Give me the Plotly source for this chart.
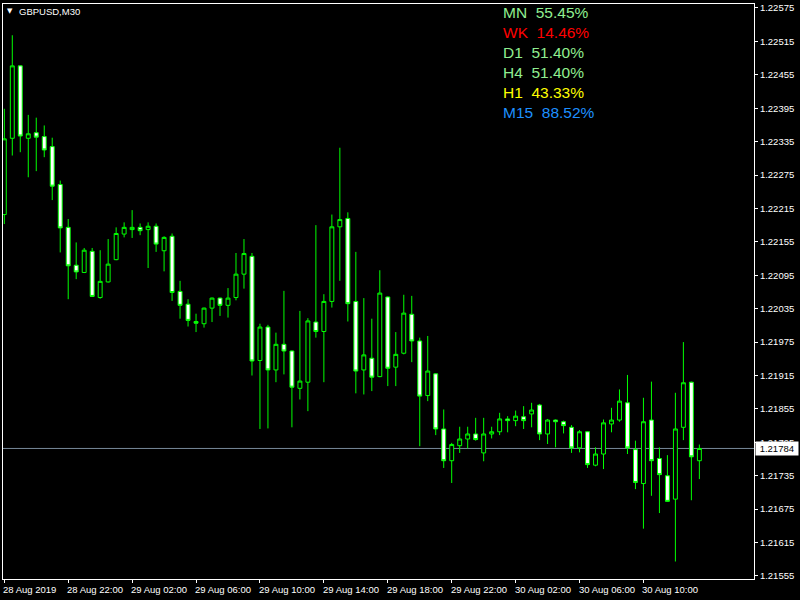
import plotly.graph_objects as go

# ---------------- data ----------------
symbol_label = "GBPUSD,M30"

open_ = [1.22204, 1.22341, 1.22471, 1.22341, 1.22351, 1.22344, 1.22326, 1.22258, 1.22181, 1.22113,
         1.22100, 1.22138, 1.22055, 1.22083, 1.22123, 1.22169, 1.22177, 1.22181, 1.22177, 1.22183,
         1.22139, 1.22165, 1.22066, 1.22043, 1.22012, 1.22008, 1.22036, 1.22054, 1.22041, 1.22055,
         1.22097, 1.22129, 1.21942, 1.22002, 1.21925, 1.21971, 1.21959, 1.21892, 1.21903, 1.22011,
         1.21994, 1.22048, 1.22182, 1.22197, 1.22048, 1.21925, 1.21946, 1.21913, 1.22056, 1.21930,
         1.21955, 1.22025, 1.21977, 1.21879, 1.21918, 1.21819, 1.21762, 1.21789, 1.21801, 1.21810,
         1.21776, 1.21810, 1.21814, 1.21837, 1.21834, 1.21841, 1.21846, 1.21862, 1.21810, 1.21835,
         1.21832, 1.21822, 1.21785, 1.21814, 1.21754, 1.21774, 1.21828, 1.21835, 1.21866, 1.21782,
         1.21721, 1.21835, 1.21766, 1.21735, 1.21693, 1.21822, 1.21903, 1.21762]
high = [1.22394, 1.22526, 1.22472, 1.22383, 1.22378, 1.22364, 1.22342, 1.22265, 1.22196, 1.22154,
        1.22144, 1.22144, 1.22140, 1.22160, 1.22181, 1.22190, 1.22212, 1.22188, 1.22190, 1.22188,
        1.22165, 1.22170, 1.22085, 1.22052, 1.22026, 1.22037, 1.22055, 1.22055, 1.22072, 1.22135,
        1.22160, 1.22135, 1.22008, 1.22006, 1.21992, 1.22067, 1.21960, 1.22031, 1.22018, 1.22185,
        1.22061, 1.22204, 1.22324, 1.22208, 1.22137, 1.22054, 1.22017, 1.22104, 1.22057, 1.21993,
        1.22060, 1.22058, 1.21983, 1.21986, 1.21919, 1.21854, 1.21794, 1.21823, 1.21823, 1.21839,
        1.21839, 1.21823, 1.21848, 1.21842, 1.21852, 1.21860, 1.21866, 1.21864, 1.21837, 1.21836,
        1.21834, 1.21826, 1.21817, 1.21815, 1.21786, 1.21836, 1.21857, 1.21890, 1.21916, 1.21798,
        1.21875, 1.21904, 1.21786, 1.21772, 1.21884, 1.21975, 1.21904, 1.21791]
low = [1.22187, 1.22310, 1.22316, 1.22271, 1.22282, 1.22307, 1.22230, 1.22136, 1.22052, 1.22088,
       1.22099, 1.22056, 1.22053, 1.22082, 1.22122, 1.22163, 1.22162, 1.22167, 1.22108, 1.22137,
       1.22102, 1.22049, 1.22017, 1.22003, 1.21993, 1.22001, 1.22011, 1.22022, 1.22019, 1.22050,
       1.22071, 1.21915, 1.21819, 1.21820, 1.21903, 1.21917, 1.21822, 1.21872, 1.21851, 1.21983,
       1.21903, 1.22037, 1.22085, 1.22012, 1.21883, 1.21881, 1.21887, 1.21912, 1.21896, 1.21896,
       1.21953, 1.21939, 1.21788, 1.21869, 1.21808, 1.21749, 1.21722, 1.21776, 1.21784, 1.21798,
       1.21761, 1.21802, 1.21808, 1.21813, 1.21824, 1.21819, 1.21822, 1.21799, 1.21792, 1.21786,
       1.21811, 1.21776, 1.21777, 1.21749, 1.21752, 1.21747, 1.21813, 1.21832, 1.21774, 1.21711,
       1.21640, 1.21699, 1.21668, 1.21688, 1.21581, 1.21799, 1.21691, 1.21729]
close = [1.22340, 1.22471, 1.22345, 1.22349, 1.22343, 1.22320, 1.22255, 1.22180, 1.22112, 1.22101,
         1.22140, 1.22057, 1.22084, 1.22115, 1.22170, 1.22181, 1.22181, 1.22175, 1.22183, 1.22151,
         1.22163, 1.22064, 1.22041, 1.22014, 1.22009, 1.22036, 1.22054, 1.22041, 1.22054, 1.22097,
         1.22134, 1.21941, 1.22002, 1.21925, 1.21971, 1.21959, 1.21894, 1.21905, 1.22013, 1.21994,
         1.22048, 1.22182, 1.22195, 1.22044, 1.21923, 1.21952, 1.21912, 1.22063, 1.21928, 1.21953,
         1.22027, 1.21977, 1.21878, 1.21923, 1.21819, 1.21762, 1.21791, 1.21801, 1.21810, 1.21800,
         1.21810, 1.21814, 1.21837, 1.21834, 1.21842, 1.21834, 1.21853, 1.21810, 1.21835, 1.21832,
         1.21825, 1.21785, 1.21814, 1.21755, 1.21774, 1.21830, 1.21835, 1.21869, 1.21785, 1.21723,
         1.21832, 1.21762, 1.21737, 1.21689, 1.21819, 1.21902, 1.21769, 1.21784]

bar_index = list(range(len(open_)))

time_tick_bars = [0, 8, 16, 24, 32, 40, 48, 56, 64, 72, 80]
time_tick_labels = ["28 Aug 2019", "28 Aug 22:00", "29 Aug 02:00", "29 Aug 06:00",
                    "29 Aug 10:00", "29 Aug 14:00", "29 Aug 18:00", "29 Aug 22:00",
                    "30 Aug 02:00", "30 Aug 06:00", "30 Aug 10:00"]

price_ticks = [1.21555, 1.21615, 1.21675, 1.21735, 1.21795, 1.21855, 1.21915, 1.21975,
               1.22035, 1.22095, 1.22155, 1.22215, 1.22275, 1.22335, 1.22395, 1.22455,
               1.22515, 1.22575]
price_tick_labels = ["%.5f" % v for v in price_ticks]

current_price = 1.21784

panel_labels = ["MN", "WK", "D1", "H4", "H1", "M15"]
panel_values = ["55.45%", "14.46%", "51.40%", "51.40%", "43.33%", "88.52%"]
panel_colors = ["#90EE90", "#FF0000", "#90EE90", "#90EE90", "#FFFF00", "#1E90FF"]

# ---------------- figure ----------------
FONT = "Liberation Sans, Arial, sans-serif"
W, H = 800, 600
ML, MR, MT, MB = 2, 46, 2, 21
plot_h = H - MT - MB

fig = go.Figure()
fig.add_trace(go.Candlestick(
    x=bar_index, open=open_, high=high, low=low, close=close,
    increasing=dict(line=dict(color="#00FF00", width=1), fillcolor="#000000"),
    decreasing=dict(line=dict(color="#00FF00", width=1), fillcolor="#FFFFFF"),
    whiskerwidth=0, hoverinfo="skip",
))

# current price line
fig.add_shape(type="line", xref="paper", x0=0, x1=1, yref="y", y0=current_price, y1=current_price,
              line=dict(color="#778899", width=1), layer="below")

annotations = []
# time axis labels (left aligned at tick, MT4 style)
for b, t in zip(time_tick_bars, time_tick_labels):
    annotations.append(dict(x=b, xref="x", y=0, yref="paper", yanchor="top", xanchor="left",
                            xshift=-3, yshift=-3, text=t, showarrow=False,
                            font=dict(family=FONT, size=9.5, color="white")))
# current price box
annotations.append(dict(x=1, xref="paper", y=current_price, yref="y", xanchor="left", yanchor="middle",
                        xshift=1, text="&nbsp;%.5f&nbsp;" % current_price, showarrow=False,
                        bgcolor="white", borderpad=1,
                        font=dict(family=FONT, size=9.5, color="black")))
# symbol label
annotations.append(dict(x=0, xref="paper", y=1, yref="paper", xanchor="left", yanchor="top",
                        xshift=2, yshift=-1, text="▼", showarrow=False,
                        font=dict(family="DejaVu Sans", size=7, color="white")))
annotations.append(dict(x=0, xref="paper", y=1, yref="paper", xanchor="left", yanchor="top",
                        xshift=14, yshift=0, text=symbol_label, showarrow=False,
                        font=dict(family=FONT, size=9.5, color="white")))
# info panel
for i, (lab, val, col) in enumerate(zip(panel_labels, panel_values, panel_colors)):
    yc = 12 + 20 * i
    annotations.append(dict(x=(503 - ML) / (W - ML - MR), xref="paper",
                            y=(H - MB - yc) / plot_h, yref="paper",
                            xanchor="left", yanchor="middle", xshift=-2, yshift=1,
                            text=lab + "&nbsp;&nbsp;" + val, showarrow=False,
                            font=dict(family=FONT, size=15.5, color=col)))

fig.update_layout(
    width=W, height=H,
    margin=dict(l=ML, r=MR, t=MT, b=MB, pad=0),
    paper_bgcolor="#000000", plot_bgcolor="#000000",
    showlegend=False,
    annotations=annotations,
    xaxis=dict(range=[-0.1625, 93.8375], showgrid=False, zeroline=False,
               showline=True, linecolor="white", linewidth=1, mirror=True,
               ticks="outside", ticklen=3, tickcolor="white", tickwidth=1,
               tickvals=time_tick_bars, showticklabels=False,
               rangeslider=dict(visible=False), fixedrange=True),
    yaxis=dict(side="right", range=[1.215496, 1.225821], showgrid=False, zeroline=False,
               showline=True, linecolor="white", linewidth=1, mirror=True,
               ticks="outside", ticklen=3, tickcolor="white", tickwidth=1,
               tickvals=price_ticks, ticktext=price_tick_labels,
               tickfont=dict(family=FONT, size=9.5, color="white"), fixedrange=True),
)

fig.write_html("out.html", config={"displayModeBar": False},
               post_script="document.body.style.margin='0';document.body.style.background='#000';")
